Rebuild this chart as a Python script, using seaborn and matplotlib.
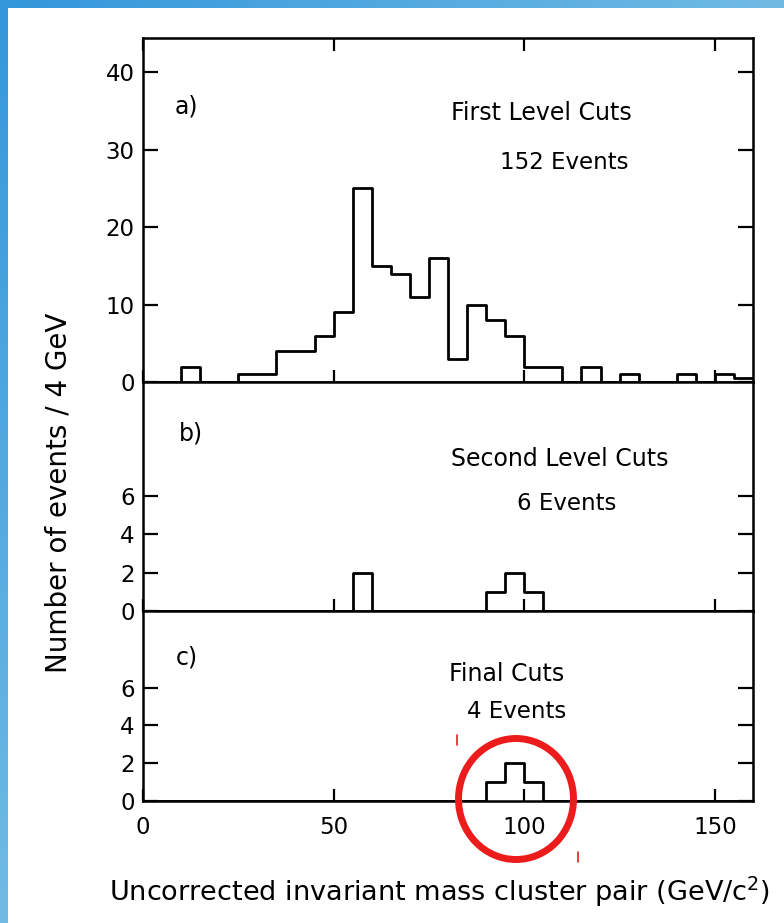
import matplotlib.pyplot as plt
import numpy as np
import pandas as pd
import seaborn as sns
from matplotlib.colors import LinearSegmentedColormap
from matplotlib.lines import Line2D
from matplotlib.patches import Ellipse

# bin edges (one bin = "4 GeV" in the original)
bin_edges = [0, 5, 10, 15, 20, 25, 30, 35, 40, 45, 50, 55, 60, 65, 70, 75,
             80, 85, 90, 95, 100, 105, 110, 115, 120, 125, 130, 135, 140,
             145, 150, 155, 160]

counts_first = [0, 0, 2, 0, 0, 1, 1, 4, 4, 6, 9, 25, 15, 14, 11, 16,
                3, 10, 8, 6, 2, 2, 0, 2, 0, 1, 0, 0, 1, 0, 1, 0.5]
counts_second = [0, 0, 0, 0, 0, 0, 0, 0, 0, 0, 0, 2, 0, 0, 0, 0,
                 0, 0, 1, 2, 1, 0, 0, 0, 0, 0, 0, 0, 0, 0, 0, 0]
counts_final = [0, 0, 0, 0, 0, 0, 0, 0, 0, 0, 0, 0, 0, 0, 0, 0,
                0, 0, 1, 2, 1, 0, 0, 0, 0, 0, 0, 0, 0, 0, 0, 0]

panel_tags = ["a)", "b)", "c)"]
panel_titles = ["First Level Cuts", "Second Level Cuts", "Final Cuts"]
panel_events = ["152 Events", "6 Events", "4 Events"]
x_ticks = [0, 50, 100, 150]
y_ticks = [[0, 10, 20, 30, 40], [0, 2, 4, 6], [0, 2, 4, 6]]
y_limits = [44.4, 11.9, 10.05]

sns.set_style("ticks")
plt.rcParams["font.family"] = ["DejaVu Sans"]
plt.rcParams["text.color"] = "black"
plt.rcParams["xtick.color"] = "black"
plt.rcParams["ytick.color"] = "black"

W, H = 784, 923
fig = plt.figure(figsize=(W / 100, H / 100), dpi=100)

# panel geometry in pixels (top, bottom)
rows = [(38, 382), (382, 611), (611, 801)]
left_px, right_px = 143, 753

centers = [(a + b) / 2 for a, b in zip(bin_edges[:-1], bin_edges[1:])]
all_counts = [counts_first, counts_second, counts_final]

# text positions (data coords) per panel: tag, title, events
text_pos = [
    [(11.3, 35.5), (104.5, 34.7), (110.5, 28.3)],
    [(12.6, 9.2), (109.4, 7.9), (111.2, 5.6)],
    [(11.6, 7.6), (95.5, 6.7), (97.9, 4.76)],
]

for i, (top, bot) in enumerate(rows):
    ax = fig.add_axes([left_px / W, 1 - bot / H,
                       (right_px - left_px) / W, (bot - top) / H])
    df = pd.DataFrame({"mass": centers, "events": all_counts[i]})
    sns.histplot(data=df, x="mass", weights="events", bins=list(bin_edges),
                 element="step", fill=False, color="black", linewidth=2.0,
                 ax=ax)
    ax.set_xticks(x_ticks)
    ax.set_yticks(y_ticks[i])
    ax.set_xlim(0, 160)
    ax.set_ylim(0, y_limits[i])
    ax.set_xlabel("")
    ax.set_ylabel("")
    for s in ax.spines.values():
        s.set_visible(True)
        s.set_linewidth(1.8)
        s.set_color("black")
    ax.tick_params(axis="y", direction="in", left=True, right=True,
                   length=11, width=1.6, labelsize=16.5, pad=6)
    ax.tick_params(axis="x", direction="in", bottom=True, top=(i == 0),
                   length=9, width=1.6, labelsize=16.5, pad=11,
                   labelbottom=(i == 2))
    (tx, ty), (hx, hy), (ex, ey) = text_pos[i]
    ax.text(tx, ty, panel_tags[i], fontsize=17, ha="center", va="center")
    ax.text(hx, hy, panel_titles[i], fontsize=17, ha="center", va="center")
    ax.text(ex, ey, panel_events[i], fontsize=16.5, ha="center", va="center")

fig.text(439 / W, 1 - 892 / H,
         "Uncorrected invariant mass cluster pair (GeV/c$^{2}$)",
         fontsize=19.5, ha="center", va="center")
fig.text(59 / W, 1 - 493 / H, "Number of events / 4 GeV",
         fontsize=20, ha="center", va="center", rotation=90)

# red highlight circle around the final peak
fig.patches.append(Ellipse((516 / W, 1 - 799 / H), 115 / W, 121 / H,
                           transform=fig.transFigure, fill=False,
                           edgecolor="#ec1c1c", linewidth=5, zorder=10))
for x0, y0, y1 in [(457, 735, 745), (578, 852, 862)]:
    fig.lines.append(Line2D([x0 / W, x0 / W], [1 - y0 / H, 1 - y1 / H],
                            transform=fig.transFigure, color="#ec1c1c",
                            linewidth=1.2))

# blue slide border (top and left)
blue = LinearSegmentedColormap.from_list("blue", ["#3497db", "#70bbe4"])
grad = np.linspace(0, 1, 256)
bar_top = fig.add_axes([0, 1 - 8 / H, 1, 8 / H])
bar_top.imshow(grad[None, :], aspect="auto", cmap=blue)
bar_top.axis("off")
bar_left = fig.add_axes([0, 0, 8 / W, 1])
bar_left.imshow(grad[:, None], aspect="auto", cmap=blue)
bar_left.axis("off")

fig.savefig("out.png", dpi=100, facecolor="white")
